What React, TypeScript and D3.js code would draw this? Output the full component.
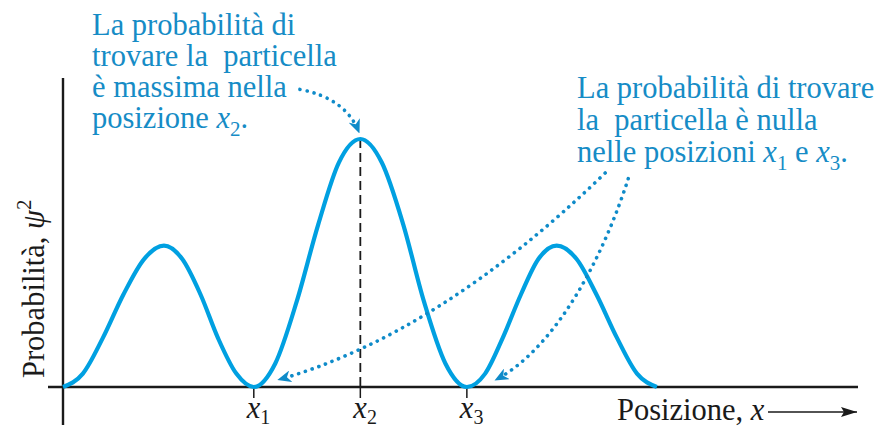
import React from "react";
import * as d3 from "d3";

// Curve samples (position units, relative probability)
const posX: number[] = [
  0, 0.25, 0.5, 0.76, 1.02, 1.27, 1.5, 1.73, 1.95, 2.18, 2.4,
  2.67, 2.94, 3.21, 3.47, 3.74, 4.01, 4.28, 4.54, 4.81, 5.08,
  5.31, 5.53, 5.76, 5.98, 6.21, 6.46, 6.71, 6.97, 7.22, 7.47,
];
const probY: number[] = [
  0, 0.054, 0.197, 0.373, 0.516, 0.57, 0.516, 0.373, 0.197, 0.054, 0,
  0.095, 0.345, 0.655, 0.905, 1, 0.905, 0.655, 0.345, 0.095, 0,
  0.054, 0.197, 0.373, 0.516, 0.57, 0.516, 0.373, 0.197, 0.054, 0,
];
const tickPos: number[] = [2.4, 3.74, 5.08];
const tickSubs: string[] = ["1", "2", "3"];

const leftNote: string[] = ["La probabilità di", "trovare la  particella", "è massima nella", "posizione "];
const rightNote: string[] = ["La probabilità di trovare", "la  particella è nulla", "nelle posizioni "];

const W = 884;
const H = 429;
const BLUE = "#00a0e1";
const TEXTBLUE = "#168cc6";
const DOTBLUE = "#0f8bc9";
const INK = "#1a1a1a";
const FONT = "'Liberation Serif', 'DejaVu Serif', serif";
const FS = 30.5;
const SUB = 21;

export default function App() {
  const x = d3.scaleLinear().domain([0, 10]).range([63, 858]);
  const y = d3.scaleLinear().domain([0, 1]).range([387, 139]);

  const pts: [number, number][] = posX.map((v, i) => [v, probY[i]]);
  const line = d3
    .line<[number, number]>()
    .x((d) => x(d[0]))
    .y((d) => y(d[1]))
    .curve(d3.curveMonotoneX);

  // annotation arrows (data coordinates)
  const p1 = d3.path();
  p1.moveTo(x(2.98), y(1.2));
  p1.quadraticCurveTo(x(3.55), y(1.165), x(3.72), y(1.03));

  const p2 = d3.path();
  p2.moveTo(x(6.82), y(0.863));
  p2.quadraticCurveTo(x(4.73), y(0.214), x(2.72), y(0.03));

  const p3 = d3.path();
  p3.moveTo(x(7.11), y(0.84));
  p3.bezierCurveTo(x(6.82), y(0.55), x(6.25), y(0.17), x(5.45), y(0.03));

  const dotStyle = {
    fill: "none",
    stroke: DOTBLUE,
    strokeWidth: 3.6,
    strokeDasharray: "0.1 7",
    strokeLinecap: "round" as const,
  };

  return (
    <svg width={W} height={H} style={{ position: "absolute", left: 0, top: 0, background: "#fff" }}>
      <defs>
        <marker id="barb" viewBox="0 0 14 12" refX="12" refY="6" markerWidth="14" markerHeight="12"
          markerUnits="userSpaceOnUse" orient="auto">
          <path d="M0,0 L14,6 L0,12 L4,6 Z" fill={DOTBLUE} />
        </marker>
        <marker id="axhead" viewBox="0 0 16 10" refX="16" refY="5" markerWidth="16" markerHeight="10"
          markerUnits="userSpaceOnUse" orient="auto">
          <path d="M0,0 L16,5 L0,10 L3,5 Z" fill={INK} />
        </marker>
      </defs>

      {/* axes */}
      <line x1={x(0)} x2={x(0)} y1={78} y2={425} stroke={INK} strokeWidth={2.4} />
      <line x1={48} x2={x(10)} y1={y(0)} y2={y(0)} stroke={INK} strokeWidth={2.4} />

      {/* ticks and labels */}
      {tickPos.map((t, i) => (
        <g key={i}>
          <line x1={x(t)} x2={x(t)} y1={y(0)} y2={y(0) + 11} stroke={INK} strokeWidth={1.5} />
          <text x={x(t) - 7} y={418} fontFamily={FONT} fontSize={FS} fill={INK}>
            <tspan fontStyle="italic">x</tspan>
            <tspan fontSize={SUB - 1} dy={6}>{tickSubs[i]}</tspan>
          </text>
        </g>
      ))}

      {/* dashed line at x2 */}
      <line x1={x(tickPos[1])} x2={x(tickPos[1])} y1={y(1)} y2={y(0)} stroke={INK} strokeWidth={1.8}
        strokeDasharray="9 5" />

      {/* curve */}
      <path d={line(pts) ?? ""} fill="none" stroke={BLUE} strokeWidth={4.2} strokeLinejoin="round" />

      {/* arrows */}
      <path d={p1.toString()} style={dotStyle} markerEnd="url(#barb)" />
      <path d={p2.toString()} style={dotStyle} markerEnd="url(#barb)" />
      <path d={p3.toString()} style={dotStyle} markerEnd="url(#barb)" />

      {/* left note */}
      <text fontFamily={FONT} fontSize={FS} fill={TEXTBLUE} style={{ whiteSpace: "pre" }}>
        {leftNote.map((s, i) =>
          i < 3 ? (
            <tspan key={i} x={92} y={35 + i * 31}>{s}</tspan>
          ) : (
            <tspan key={i} x={92} y={35 + i * 31}>
              {s}
              <tspan fontStyle="italic">x</tspan>
              <tspan fontSize={SUB} dy={8}>2</tspan>
              <tspan dy={-8}>.</tspan>
            </tspan>
          )
        )}
      </text>

      {/* right note */}
      <text fontFamily={FONT} fontSize={FS} fill={TEXTBLUE} style={{ whiteSpace: "pre" }}>
        {rightNote.map((s, i) =>
          i < 2 ? (
            <tspan key={i} x={577} y={98 + i * 32}>{s}</tspan>
          ) : (
            <tspan key={i} x={577} y={98 + i * 32}>
              {s}
              <tspan fontStyle="italic">x</tspan>
              <tspan fontSize={SUB} dy={8}>1</tspan>
              <tspan dy={-8}> e </tspan>
              <tspan fontStyle="italic">x</tspan>
              <tspan fontSize={SUB} dy={8}>3</tspan>
              <tspan dy={-8}>.</tspan>
            </tspan>
          )
        )}
      </text>

      {/* y label */}
      <text transform="translate(44,378) rotate(-90)" fontFamily={FONT} fontSize={FS} fill={INK}
        style={{ whiteSpace: "pre" }}>
        {"Probabilità, "}
        <tspan fontStyle="italic">ψ</tspan>
        <tspan fontSize={SUB} dy={-13}>2</tspan>
      </text>

      {/* x label */}
      <text x={617} y={420} fontFamily={FONT} fontSize={FS} fill={INK} style={{ whiteSpace: "pre" }}>
        {"Posizione, "}
        <tspan fontStyle="italic">x</tspan>
      </text>
      <line x1={768} x2={857} y1={412} y2={412} stroke={INK} strokeWidth={1.4} markerEnd="url(#axhead)" />
    </svg>
  );
}
